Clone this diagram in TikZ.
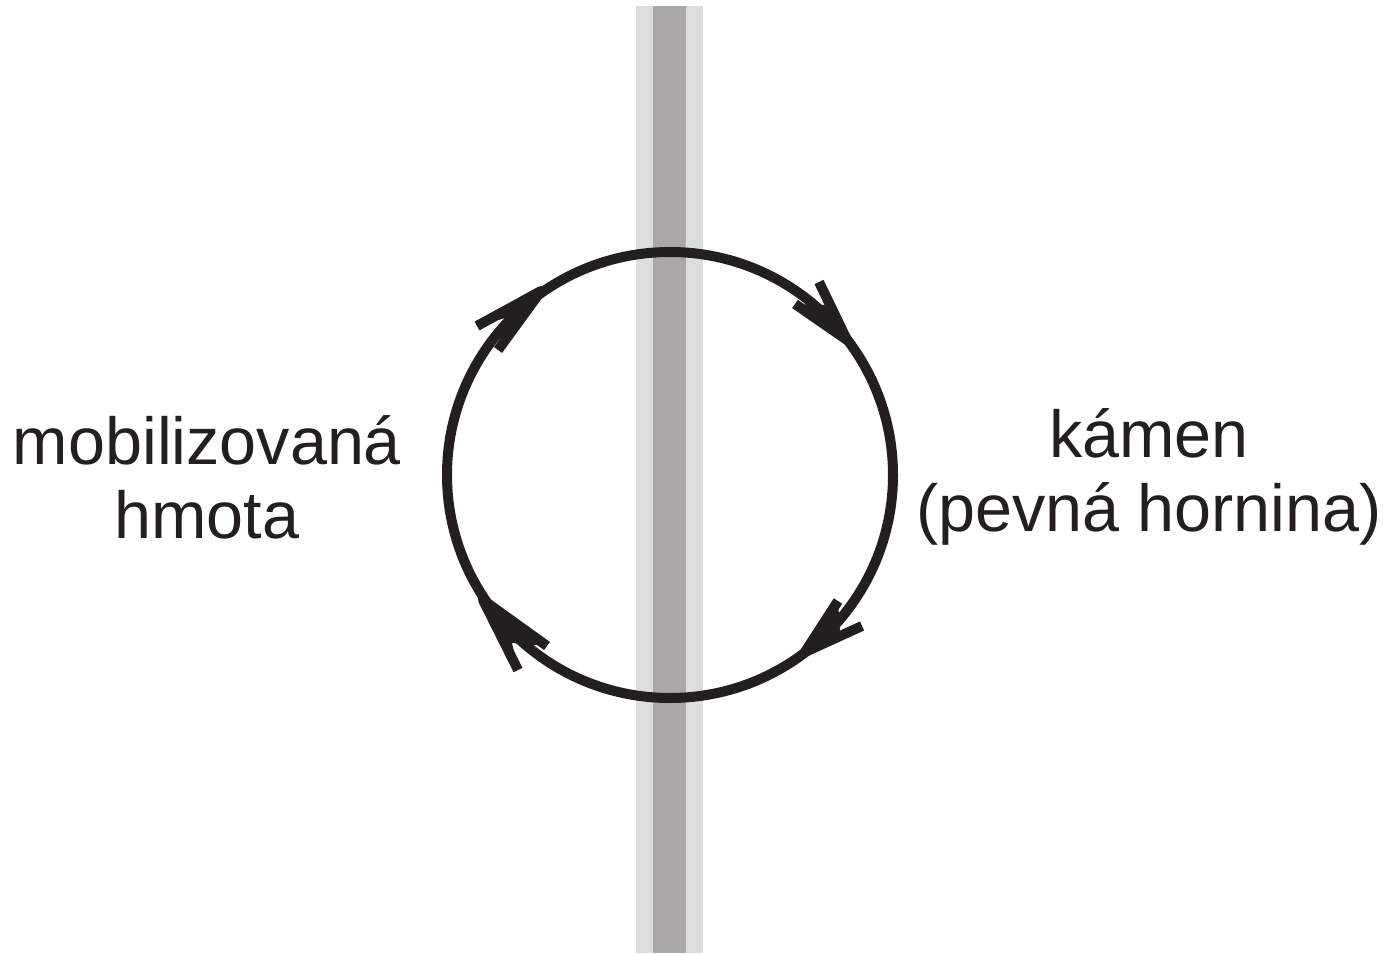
\documentclass[tikz,border=0pt]{standalone}
\usepackage{fontspec}
\setmainfont{Liberation Sans}
\definecolor{ink}{HTML}{231F20}
\definecolor{barlight}{HTML}{DCDDDD}
\definecolor{bardark}{HTML}{A9A8A7}
\tikzset{
  cyc/.style={draw=ink, line width=10pt},
  barb/.style={draw=ink, line width=10pt, line cap=butt, line join=round},
  headfill/.style={fill=ink},
  lbl/.style={text=ink, font=\fontsize{66.5}{74}\selectfont, inner sep=0pt, anchor=base}
}
\begin{document}
\begin{tikzpicture}[x=1pt,y=-1pt]
\useasboundingbox (0,0) rectangle (1390,955);
% vertical bar
\fill[barlight] (636,6) rectangle (703,953);
\fill[bardark] (653,6) rectangle (686,953);
% cycle
\node[circle, minimum size=446pt, inner sep=0pt, cyc] (cyc) at (670,475) {};
% arrowheads (clockwise)
\coordinate (T1) at (541,291); \coordinate (A1) at (477,326); \coordinate (B1) at (498,350); \coordinate (N1) at (505,318);
\coordinate (T2) at (847,340); \coordinate (A2) at (819,282); \coordinate (B2) at (795,304); \coordinate (N2) at (825,305);
\coordinate (T3) at (805,652); \coordinate (A3) at (838,601); \coordinate (B3) at (862,626); \coordinate (N3) at (840,632);
\coordinate (T4) at (483,600); \coordinate (A4) at (547,646); \coordinate (B4) at (518,670); \coordinate (N4) at (512,643);
\foreach \i in {1,2,3,4}{
  \fill[headfill] (T\i) -- (A\i) -- (N\i) -- (B\i) -- cycle;
  \draw[barb] (A\i) -- (T\i) -- (B\i);
}
% labels
\node[lbl] (l1) at (207,464) {mobilizovaná};
\node[lbl] (l2) at (207,538) {hmota};
\node[lbl] (r1) at (1149,457) {kámen};
\node[lbl] (r2) at (1149,531) {(pevná hornina)};
\end{tikzpicture}
\end{document}
